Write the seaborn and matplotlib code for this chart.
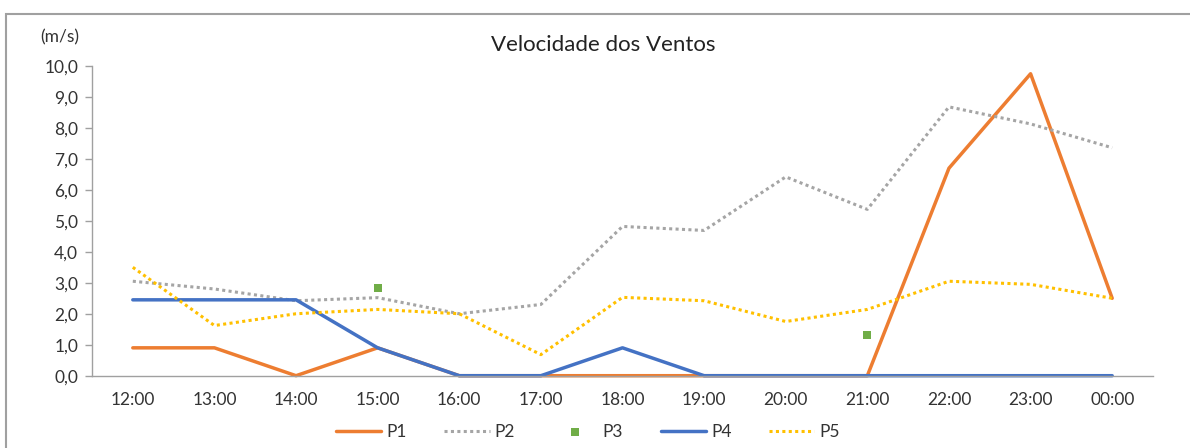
import matplotlib
matplotlib.use("Agg")
import matplotlib.pyplot as plt
from matplotlib.patches import Rectangle
from matplotlib.ticker import FuncFormatter, MultipleLocator
import numpy as np
import pandas as pd
import seaborn as sns

hours = ["12:00", "13:00", "14:00", "15:00", "16:00", "17:00", "18:00",
         "19:00", "20:00", "21:00", "22:00", "23:00", "00:00"]
p1 = [0.9, 0.9, 0.0, 0.9, 0.0, 0.0, 0.0, 0.0, 0.0, 0.0, 6.7, 9.75, 2.5]
p2 = [3.05, 2.8, 2.42, 2.52, 2.0, 2.3, 4.82, 4.69, 6.42, 5.37, 8.68, 8.13, 7.36]
p3 = [np.nan, np.nan, np.nan, 2.82, np.nan, np.nan, np.nan,
      np.nan, np.nan, 1.33, np.nan, np.nan, np.nan]
p4 = [2.45, 2.45, 2.45, 0.9, 0.0, 0.0, 0.9, 0.0, 0.0, 0.0, 0.0, 0.0, 0.0]
p5 = [3.5, 1.62, 2.0, 2.14, 2.0, 0.68, 2.53, 2.42, 1.75, 2.14, 3.05, 2.95, 2.5]

df = pd.DataFrame({"x": np.arange(len(hours)), "P1": p1, "P2": p2,
                   "P3": p3, "P4": p4, "P5": p5})

sns.set_style("white")
plt.rcParams["font.family"] = ["Lato", "DejaVu Sans"]
text_col = "#333333"
axis_col = "#a0a0a0"

fig = plt.figure(figsize=(11.9, 4.48), dpi=100)
ax = fig.add_axes([92 / 1190, 1 - 375.7 / 448, (1153 - 92) / 1190, (375.7 - 66) / 448])

dot = (0, (1, 1.1))
sns.lineplot(data=df, x="x", y="P1", ax=ax, color="#ed7d31", lw=2.5,
             label="P1", clip_on=False)
sns.lineplot(data=df, x="x", y="P2", ax=ax, color="#a5a5a5", lw=2.2,
             linestyle=dot, label="P2", clip_on=False)
sns.scatterplot(data=df.dropna(subset=["P3"]), x="x", y="P3", ax=ax,
                color="#70ad47", marker="s", s=30, linewidth=0, label="P3")
sns.lineplot(data=df, x="x", y="P4", ax=ax, color="#4472c4", lw=2.5,
             label="P4", clip_on=False)
sns.lineplot(data=df, x="x", y="P5", ax=ax, color="#ffc000", lw=2.2,
             linestyle=dot, label="P5", clip_on=False)

ax.set_xlim(-0.5, len(hours) - 0.5)
ax.set_ylim(0, 10)
ax.yaxis.set_major_locator(MultipleLocator(1))
ax.yaxis.set_major_formatter(FuncFormatter(lambda v, _: f"{v:.1f}".replace(".", ",")))
ax.set_xticks(np.arange(len(hours)))
ax.set_xticklabels(hours)
ax.set_xticks(np.arange(len(hours) + 1) - 0.5, minor=True)
ax.tick_params(axis="x", which="major", length=0, pad=12, labelsize=12.5, labelcolor=text_col)
ax.tick_params(axis="x", which="minor", length=5, width=1, color=axis_col, direction="out")
ax.tick_params(axis="y", length=5, width=1, color=axis_col, direction="out",
               pad=5, labelsize=12.5, labelcolor=text_col, left=True)
ax.set_xlabel("")
ax.set_ylabel("")
for s in ["top", "right"]:
    ax.spines[s].set_visible(False)
for s in ["left", "bottom"]:
    ax.spines[s].set_color(axis_col)
    ax.spines[s].set_linewidth(1)
ax.grid(False)

ax.legend(loc="center", bbox_to_anchor=((588 - 92) / 1061, -(432 - 375.7) / 309.7),
          ncol=5, frameon=False, fontsize=12.5, handlelength=2.6,
          handletextpad=0.3, columnspacing=2.15, labelcolor=text_col)

fig.text(603 / 1190, 1 - 45 / 448, "Velocidade dos Ventos", ha="center",
         va="center", fontsize=16, color="#222222")
fig.text(60 / 1190, 1 - 37 / 448, "(m/s)", ha="center", va="center",
         fontsize=12.5, color=text_col)

fig.patches.append(Rectangle((6 / 1190, -0.1), 1.2, 1.1 - 14 / 448,
                             transform=fig.transFigure, fill=False,
                             edgecolor=axis_col, lw=1.5))

fig.savefig("out.png", dpi=100)
